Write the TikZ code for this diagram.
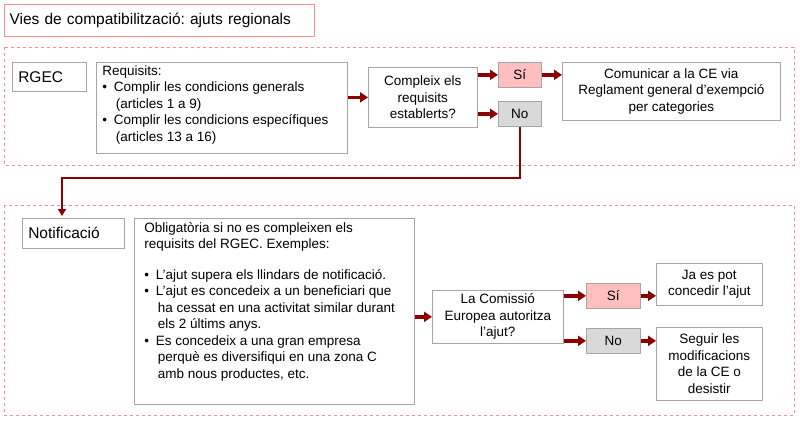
\documentclass[tikz,border=0pt]{standalone}
\usepackage{fontspec}
\setmainfont{Liberation Sans}
\usetikzlibrary{positioning,arrows.meta}
\newcommand{\topcell}[3]{\parbox[c][#2][t]{#1}{#3}}
\frenchspacing
\begin{document}
\begin{tikzpicture}[x=1pt,y=-1pt]
  % some colors
  \colorlet{frame}{red!45!white}
  \colorlet{links}{red!55!black}
  \colorlet{yes}{red!25!white}
  \colorlet{no}{gray!30!white}
  % some styles
  \tikzset{
    box/.style={draw=gray!70,line width=.6pt,fill=white,inner sep=0pt,
      font=\fontsize{13.5}{16.5}\selectfont,anchor=north west},
    label box/.style={box,inner xsep=6pt,font=\fontsize{15.5}{18}\selectfont},
    answer/.style={box,fill=#1,minimum width=43,minimum height=25,align=center},
    region/.style={draw=frame,dashed,line width=.8pt},
    link/.style={-{Triangle[length=8pt,width=10pt]},links,line width=3.5pt},
  }
  \useasboundingbox (0,0) rectangle (800,421);
  % title
  \node[box,draw=frame,line width=1pt,minimum width=310,minimum height=32,
    text width=300,font=\fontsize{15.5}{18}\selectfont] (title) at (4,4)
    {Vies de compatibilització: ajuts regionals};
  % dashed regions
  \draw[region] (4,47) rectangle (794,165);
  \draw[region] (4,205) rectangle (794,415);
  % RGEC route
  \node[label box,minimum width=74,minimum height=29,text width=62] (rgec) at (12,62) {RGEC};
  \node[box] (req) at (96,62)
    {\hspace{6pt}\topcell{245pt}{91pt}{\vspace{3pt}Requisits:\\
     \textbullet\enspace Complir les condicions generals\\
     \hspace*{1em}(articles 1 a 9)\\
     \textbullet\enspace Complir les condicions específiques\\
     \hspace*{1em}(articles 13 a 16)}};
  \node[box,minimum width=109,minimum height=60,align=center] (check) at (368,67)
    {Compleix els\\requisits\\establerts?};
  \node[answer=yes] (si1) at (498,62) {Sí};
  \node[answer=no] (no1) at (498,101) {No};
  \node[box,minimum width=218,minimum height=58,align=center] (comm) at (562,62)
    {Comunicar a la CE via\\Reglament general d’exempció\\per categories};
  % notification route
  \node[label box,minimum width=102,minimum height=30,text width=90] (notif) at (22,218) {Notificació};
  \node[box] (oblig) at (134,218)
    {\hspace{10pt}\topcell{270pt}{186pt}{\vspace{4pt}Obligatòria si no es compleixen els\\
     requisits del RGEC. Exemples:\\[14pt]
     \textbullet\enspace L’ajut supera els llindars de notificació.\\
     \textbullet\enspace L’ajut es concedeix a un beneficiari que\\
     \hspace*{1em}ha cessat en una activitat similar durant\\
     \hspace*{1em}els 2 últims anys.\\
     \textbullet\enspace Es concedeix a una gran empresa\\
     \hspace*{1em}perquè es diversifiqui en una zona C\\
     \hspace*{1em}amb nous productes, etc.}};
  \node[box,minimum width=131,minimum height=53,align=center] (ce) at (432,290)
    {La Comissió\\Europea autoritza\\l’ajut?};
  \node[answer=yes,minimum width=54] (si2) at (586,283) {Sí};
  \node[answer=no,minimum width=54] (no2) at (586,328) {No};
  \node[box,minimum width=106,minimum height=42,align=center] (ok) at (656,263)
    {Ja es pot\\concedir l’ajut};
  \node[box,minimum width=106,minimum height=73,align=center] (follow) at (656,327)
    {Seguir les\\modificacions\\de la CE o\\desistir};
  % connectors
  \draw[link] (req.east |- check.west) -- (check.west);
  \draw[link] (check.east |- si1.west) -- (si1.west);
  \draw[link] (check.east |- no1.west) -- (no1.west);
  \draw[link] (si1.east) -- (comm.west |- si1.east);
  \draw[links,line width=1.5pt,-{Triangle[length=7pt,width=8pt]}] (no1.south) |- (62,178) -- (62,216);
  \draw[link] (oblig.east |- ce.west) -- (ce.west);
  \draw[link] (ce.east |- si2.west) -- (si2.west);
  \draw[link] (ce.east |- no2.west) -- (no2.west);
  \draw[link] (si2.east) -- (ok.west |- si2.east);
  \draw[link] (no2.east) -- (follow.west |- no2.east);
\end{tikzpicture}
\end{document}
